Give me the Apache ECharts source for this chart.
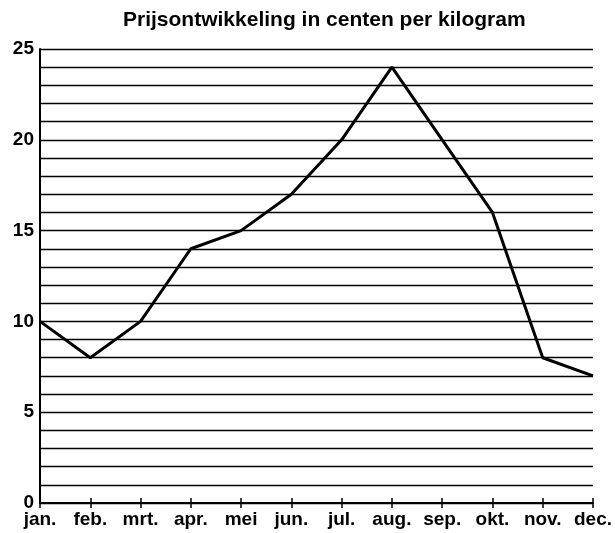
<!DOCTYPE html>
<html>
<head>
<meta charset="utf-8">
<script src="https://cdn.jsdelivr.net/npm/echarts@6/dist/echarts.min.js"></script>
<style>
  html, body { margin: 0; padding: 0; background: #fff; }
  #demo { width: 615px; height: 533px; }
</style>
</head>
<body>
<div id="demo"></div>
<script>
// 数据
var months = ['jan.', 'feb.', 'mrt.', 'apr.', 'mei', 'jun.', 'jul.', 'aug.', 'sep.', 'okt.', 'nov.', 'dec.'];
var prices = [10, 8, 10, 14, 15, 17, 20, 24, 20, 16, 8, 7];
var yTicks = [0, 5, 10, 15, 20, 25];

var font = '"Liberation Sans", Arial, sans-serif';

var myChart = echarts.init(document.getElementById('demo'));
var option = {
    backgroundColor: '#fff',
    animation: false,
    title: {
        text: 'Prijsontwikkeling in centen per kilogram',
        left: 118,
        top: 5,
        textStyle: { fontFamily: font, fontSize: 21, fontWeight: 'bold', color: '#000' }
    },
    grid: { left: 40, right: 22, top: 49, bottom: 30 },
    xAxis: [{
        type: 'category',
        data: months,
        boundaryGap: false,
        position: 'bottom',
        axisLine: { lineStyle: { color: '#000', width: 2 } },
        axisTick: { show: true, length: 5, lineStyle: { color: '#000', width: 1.5 } },
        axisLabel: { fontFamily: font, fontSize: 19, fontWeight: 'bold', color: '#000', margin: 7, showMaxLabel: true, showMinLabel: true, interval: 0 }
    }, {
        type: 'category',
        data: months,
        boundaryGap: false,
        position: 'bottom',
        offset: 0,
        axisLine: { show: false },
        axisTick: { show: true, inside: true, length: 5, lineStyle: { color: '#000', width: 1.5 } },
        axisLabel: { show: false }
    }],
    yAxis: {
        type: 'value',
        min: 0,
        max: 25,
        interval: 1,
        axisLine: { show: true, lineStyle: { color: '#000', width: 2 } },
        axisTick: { show: false },
        axisLabel: {
            fontFamily: font, fontSize: 19, fontWeight: 'bold', color: '#000', margin: 6,
            formatter: function (v) { return yTicks.indexOf(v) >= 0 ? String(v) : ''; }
        },
        splitLine: { show: true, lineStyle: { color: '#000', width: 1.3 } }
    },
    series: [{
        type: 'line',
        data: prices,
        symbol: 'none',
        lineStyle: { color: '#000', width: 3 }
    }]
};
myChart.setOption(option);
window.onresize = function () { myChart.resize(); };
</script>
</body>
</html>
